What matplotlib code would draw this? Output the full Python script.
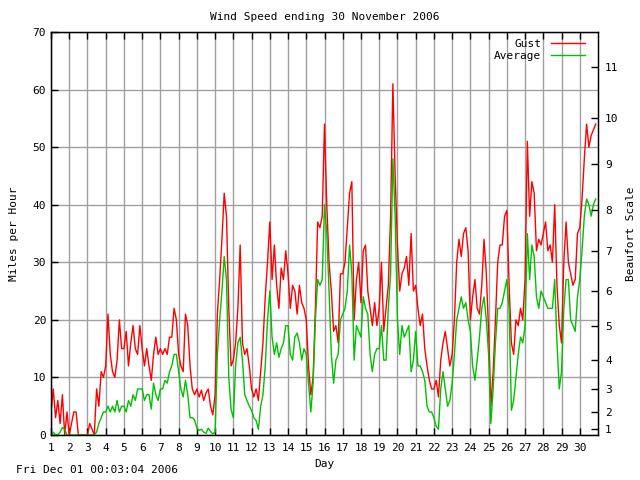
import numpy as np
import matplotlib
matplotlib.use("Agg")
from matplotlib import pyplot as plt

# wind readings, 8 samples per day (every 3 hours), days 1..30
gust = [
    4, 8, 3, 6, 2, 7, 0, 4,            # 1
    0, 2, 4, 4, 0, 0, 0, 0,            # 2
    0, 2, 1, 0, 8, 5, 11, 10,          # 3
    12, 21, 14, 11, 10, 13, 20, 15,    # 4
    15, 18, 12, 16, 19, 15, 14, 19,    # 5
    15, 12, 15, 12, 9.5, 14, 17, 14,   # 6
    15, 14, 15, 14, 17, 17, 22, 20,    # 7
    14, 12, 11, 21, 19, 12, 8, 7,      # 8
    8, 6.6, 7.8, 6, 7.3, 8, 5, 3.5,    # 9
    7, 21, 27, 34, 42, 38, 22, 12,     # 10
    13, 16, 22, 33, 16, 14, 15, 12,    # 11
    8, 6.6, 8, 6, 11, 16, 24, 30,      # 12
    37, 27, 33, 26, 22, 29, 27, 32,    # 13
    28, 22, 26, 25, 21, 26, 23, 22,    # 14
    20, 12, 7, 10, 22, 37, 36, 38,     # 15
    54, 40, 30, 25, 18, 19, 16, 28,    # 16
    28, 30, 36, 42, 44, 20, 27, 30,    # 17
    23, 32, 33, 25, 22, 19, 23, 19,    # 18
    22, 30, 18, 22, 26, 38, 61, 45,    # 19
    33, 25, 28, 29, 31, 26, 35, 25,    # 20
    26, 22, 19, 21, 15, 12, 9.5, 8,    # 21
    8, 9.5, 6.6, 13, 16, 18, 15, 12,   # 22
    14, 20, 30, 34, 31, 35, 36, 32,    # 23
    20, 24, 27, 22, 21, 26, 34, 28,    # 24
    18, 5, 11, 20, 30, 33, 33, 38,     # 25
    39, 26, 16, 14, 20, 19, 22, 20,    # 26
    27, 51, 38, 44, 42, 32, 34, 33,    # 27
    35, 37, 32, 33, 30, 40, 26, 19,    # 28
    16, 30, 37, 30, 28, 26, 27, 35,    # 29
    36, 41, 48, 54, 50, 52, 53, 54,    # 30
]

average = [
    0, 0.5, 0, 0, 0.5, 1.3, 1, 0,      # 1
    0, 0, 0, 0, 0, 0, 0, 0,            # 2
    0, 0, 0, 0, 0.5, 2, 3, 4,          # 3
    4, 5, 4, 5, 4, 6, 4, 5,            # 4
    5, 4, 6, 5, 7, 6, 8, 8,            # 5
    8, 6, 7, 7, 4.5, 9, 7, 6,          # 6
    8, 8, 9.5, 9, 11, 12, 14, 14,      # 7
    11, 8, 6.6, 9.5, 7, 3, 3, 2.6,     # 8
    1.2, 0.8, 1, 0.5, 0.3, 1.2, 0.6, 0.2,  # 9
    0.5, 14, 20, 25, 31, 27, 10, 4.5,  # 10
    3, 12, 16, 17, 13, 7, 6, 5,        # 11
    4.3, 3, 2.5, 1, 5, 7, 12, 20,      # 12
    25, 17, 14, 16, 13.5, 15, 16, 19,  # 13
    19, 14, 13, 17, 17.7, 16, 13, 15,  # 14
    14, 9, 4, 9, 20, 27, 26, 27,       # 15
    40, 35, 25, 14, 9, 13, 14, 20,     # 16
    21, 22, 25, 33, 28, 13, 19, 18,    # 17
    17, 24, 22, 21, 14, 11, 14, 15,    # 18
    15, 19, 13, 13, 22, 28, 48, 38,    # 19
    20, 14, 19, 17, 18, 19, 11, 13,    # 20
    18, 12, 12, 11, 9.5, 5, 4, 4,      # 21
    3, 1.5, 1, 8, 11, 8, 5, 6,         # 22
    9, 14, 20, 22, 24, 22, 23, 20,     # 23
    18, 12, 9.5, 13, 17, 22, 24, 20,   # 24
    14, 2, 8, 16, 22, 22, 23, 25,      # 25
    27, 22, 4.3, 6, 10, 14, 17, 16,    # 26
    19, 35, 27, 33, 31, 24, 22, 25,    # 27
    24, 23, 22, 22, 22, 27, 16, 8,     # 28
    11, 22, 27, 27, 20, 19, 18, 24,    # 29
    27, 32, 38, 41, 40, 38, 40, 41,    # 30
]

days = np.arange(1, 31)
beaufort_mph = [1, 4, 8, 13, 19, 25, 32, 39, 47, 55, 64]
beaufort_lbl = [str(b) for b in range(1, 12)]

plt.rcParams['font.family'] = ['DejaVu Sans Mono']
plt.rcParams['font.size'] = 8

t = 1 + np.arange(len(gust)) / 8.0

fig = plt.figure(figsize=(6.4, 4.8), dpi=100)
ax = fig.add_axes([51/640, 1-435/480, (598-51)/640, (435-32)/480])

ax.plot(t, gust, color='#ff0000', lw=1, label='Gust')
ax.plot(t, average, color='#00c000', lw=1, label='Average')

ax.set_xlim(1, 31)
ax.set_ylim(0, 70)
ax.set_xticks(days)
ax.set_yticks(np.arange(0, 71, 10))
ax.grid(True, color='#a0a0a0', lw=1)
ax.set_axisbelow(True)
ax.tick_params(direction='in', length=5, width=1, top=True, right=False)
ax.tick_params(axis='x', pad=6)
for s in ax.spines.values():
    s.set_linewidth(1)

ax.set_xlabel('Day', labelpad=4)
ax.set_ylabel('Miles per Hour', labelpad=10)
ax.set_title('Wind Speed ending 30 November 2006', fontsize=8, pad=9)

ax2 = ax.twinx()
ax2.set_ylim(0, 70)
ax2.set_yticks(beaufort_mph)
ax2.set_yticklabels(beaufort_lbl)
ax2.tick_params(direction='in', length=5, width=1, pad=5)
ax2.set_ylabel('Beaufort Scale')
ax2.yaxis.set_label_coords(1.052, 0.5)

leg = ax.legend(loc='upper right', frameon=False, markerfirst=False,
                handlelength=3.0, borderaxespad=0.2, labelspacing=0.2,
                handletextpad=0.9, bbox_to_anchor=(0.988, 1.0))

fig.text(16/640, 1-470/480, 'Fri Dec 01 00:03:04 2006', va='center', ha='left')

fig.savefig('out.png', dpi=100)
